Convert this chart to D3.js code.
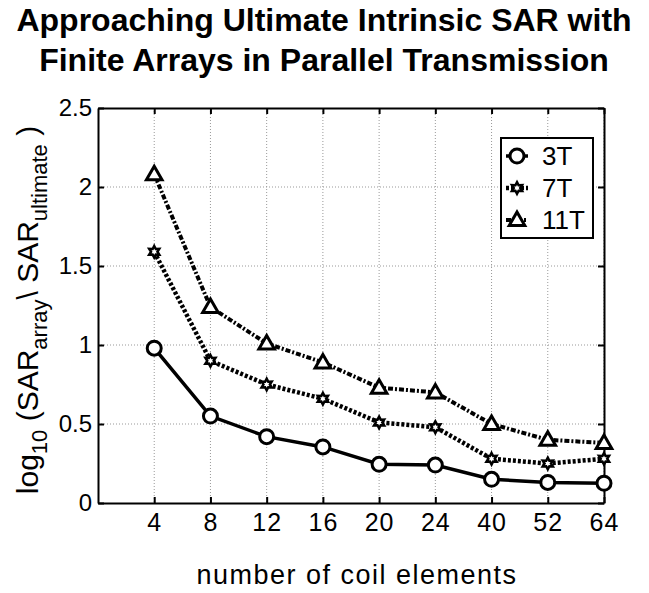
<!DOCTYPE html>
<html>
<head>
<meta charset="utf-8">
<script src="https://cdn.jsdelivr.net/npm/d3@7"></script>
<style>
  body { margin: 0; background: #fff; }
  text { font-family: "Liberation Sans", Arial, sans-serif; fill: #000; }
</style>
</head>
<body>
<div id="chart"></div>
<script>
// data
var coils = ['4', '8', '12', '16', '20', '24', '40', '52', '64'];
var sar3T = [0.98, 0.55, 0.42, 0.355, 0.245, 0.24, 0.15, 0.13, 0.125];
var sar7T = [1.59, 0.90, 0.75, 0.66, 0.51, 0.48, 0.28, 0.25, 0.28];
var sar11T = [2.08, 1.24, 1.01, 0.89, 0.73, 0.70, 0.50, 0.40, 0.38];
var seriesNames = ['3T', '7T', '11T'];
var yTicks = [0, 0.5, 1, 1.5, 2, 2.5];

(function(){
  var width = 649, height = 593;
  var mLeft = 98, mRight = 604, mTop = 108, mBottom = 503;

  var svg = d3.select('#chart').append('svg')
    .attr('width', width)
    .attr('height', height);

  // categories sit at index 1..9 on a 0..9 axis
  var x = d3.scaleLinear().domain([0, 9]).range([mLeft, mRight]);
  var y = d3.scaleLinear().domain([0, 2.5]).range([mBottom, mTop]);

  // grid
  svg.append('g').selectAll('line')
    .data(coils)
    .enter().append('line')
    .attr('x1', function(d, i){ return x(i + 1) })
    .attr('x2', function(d, i){ return x(i + 1) })
    .attr('y1', mTop).attr('y2', mBottom)
    .attr('stroke', '#999').attr('stroke-width', 1).attr('stroke-dasharray', '1,2');
  svg.append('g').selectAll('line')
    .data(yTicks.slice(1, -1))
    .enter().append('line')
    .attr('x1', mLeft).attr('x2', mRight)
    .attr('y1', function(d){ return y(d) })
    .attr('y2', function(d){ return y(d) })
    .attr('stroke', '#999').attr('stroke-width', 1).attr('stroke-dasharray', '1,2');

  // axes
  var xAxis = d3.axisBottom(x)
    .tickValues(d3.range(1, 10))
    .tickFormat(function(d){ return coils[d - 1] })
    .tickSizeInner(-6).tickSizeOuter(0).tickPadding(10);
  var xTop = d3.axisTop(x).tickValues(d3.range(1, 10)).tickFormat('')
    .tickSizeInner(-6).tickSizeOuter(0);
  var yAxis = d3.axisLeft(y)
    .tickValues(yTicks)
    .tickFormat(function(d){ return String(d) })
    .tickSizeInner(-6).tickSizeOuter(0).tickPadding(6);
  var yRight = d3.axisRight(y).tickValues(yTicks).tickFormat('')
    .tickSizeInner(-6).tickSizeOuter(0);

  function styleAxis(g){
    g.attr('font-size', null).attr('font-family', null);
    g.selectAll('path').attr('stroke', '#000').attr('stroke-width', 2);
    g.selectAll('line').attr('stroke', '#000').attr('stroke-width', 2);
    g.selectAll('text').style('font-size', '24px').attr('fill', '#000');
  }
  svg.append('g').attr('transform', 'translate(0,' + mBottom + ')').call(xAxis).call(styleAxis)
    .selectAll('text').style('font-size', '25px').style('letter-spacing', '1px');
  svg.append('g').attr('transform', 'translate(0,' + mTop + ')').call(xTop).call(styleAxis);
  svg.append('g').attr('transform', 'translate(' + mLeft + ',0)').call(yAxis).call(styleAxis);
  svg.append('g').attr('transform', 'translate(' + mRight + ',0)').call(yRight).call(styleAxis);

  // series
  var series = [
    { name: seriesNames[0], values: sar3T, dash: null, width: 3.5, marker: 'circle' },
    { name: seriesNames[1], values: sar7T, dash: '3,2', width: 4.5, marker: 'hexagram' },
    { name: seriesNames[2], values: sar11T, dash: '5,2,2,2', width: 4, marker: 'triangle' }
  ];

  var line = d3.line()
    .x(function(d, i){ return x(i + 1) })
    .y(function(d){ return y(d) });

  // six-pointed star like matlab's 'h' marker
  var hexPts = d3.range(12).map(function(k){
    var a = k * Math.PI / 6 - Math.PI / 2;
    var r = k % 2 ? 3.2 : 5.8;
    return [r * Math.cos(a), r * Math.sin(a)];
  });
  var hexPath = 'M' + hexPts.join('L') + 'Z';

  function drawMarker(g, type, cx, cy){
    if(type === 'circle'){
      g.append('circle').attr('cx', cx).attr('cy', cy).attr('r', 7)
        .attr('fill', '#fff').attr('stroke', '#000').attr('stroke-width', 3);
    }else if(type === 'hexagram'){
      g.append('path')
        .attr('d', hexPath)
        .attr('transform', 'translate(' + cx + ',' + cy + ')')
        .attr('fill', '#fff').attr('stroke', '#000').attr('stroke-width', 2.5);
    }else{
      g.append('path')
        .attr('d', d3.symbol().type(d3.symbolTriangle).size(105)())
        .attr('transform', 'translate(' + cx + ',' + (cy + 1) + ')')
        .attr('fill', '#fff').attr('stroke', '#000').attr('stroke-width', 3);
    }
  }

  series.forEach(function(s){
    svg.append('path')
      .datum(s.values)
      .attr('d', line)
      .attr('fill', 'none')
      .attr('stroke', '#000')
      .attr('stroke-width', s.width)
      .attr('stroke-dasharray', s.dash);
    var g = svg.append('g');
    s.values.forEach(function(v, i){ drawMarker(g, s.marker, x(i + 1), y(v)); });
  });

  // legend
  var legend = svg.append('g');
  legend.append('rect')
    .attr('x', 501).attr('y', 138).attr('width', 92).attr('height', 100)
    .attr('fill', '#fff').attr('stroke', '#000').attr('stroke-width', 2);
  series.forEach(function(s, i){
    var ly = 156 + i * 32;
    legend.append('line')
      .attr('x1', 506).attr('x2', 528).attr('y1', ly).attr('y2', ly)
      .attr('stroke', '#000').attr('stroke-width', s.width)
      .attr('stroke-dasharray', s.dash);
    drawMarker(legend, s.marker, 517, ly);
    legend.append('text')
      .attr('x', 542).attr('y', ly + 9)
      .style('font-size', '26px')
      .text(s.name);
  });

  // title
  var title = svg.append('text')
    .attr('text-anchor', 'middle')
    .style('font-size', '32px').style('font-weight', 'bold');
  title.append('tspan').attr('x', 324).attr('y', 31).text('Approaching Ultimate Intrinsic SAR with');
  title.append('tspan').attr('x', 324).attr('y', 71).text('Finite Arrays in Parallel Transmission');

  // x label
  svg.append('text')
    .attr('x', 357).attr('y', 584)
    .attr('text-anchor', 'middle')
    .style('font-size', '27px')
    .style('letter-spacing', '1.5px')
    .text('number of coil elements');

  // y label with subscripts
  var yl = svg.append('text')
    .attr('transform', 'translate(38,310) rotate(-90)')
    .attr('text-anchor', 'middle')
    .style('font-size', '30px');
  yl.append('tspan').text('log');
  yl.append('tspan').attr('dy', 9).style('font-size', '22px').text('10');
  yl.append('tspan').attr('dy', -9).text(' (SAR');
  yl.append('tspan').attr('dy', 9).style('font-size', '22px').text('array');
  yl.append('tspan').attr('dy', -9).text('\\ SAR');
  yl.append('tspan').attr('dy', 9).style('font-size', '22px').text('ultimate');
  yl.append('tspan').attr('dy', -9).text(' )');
})();
</script>
</body>
</html>
